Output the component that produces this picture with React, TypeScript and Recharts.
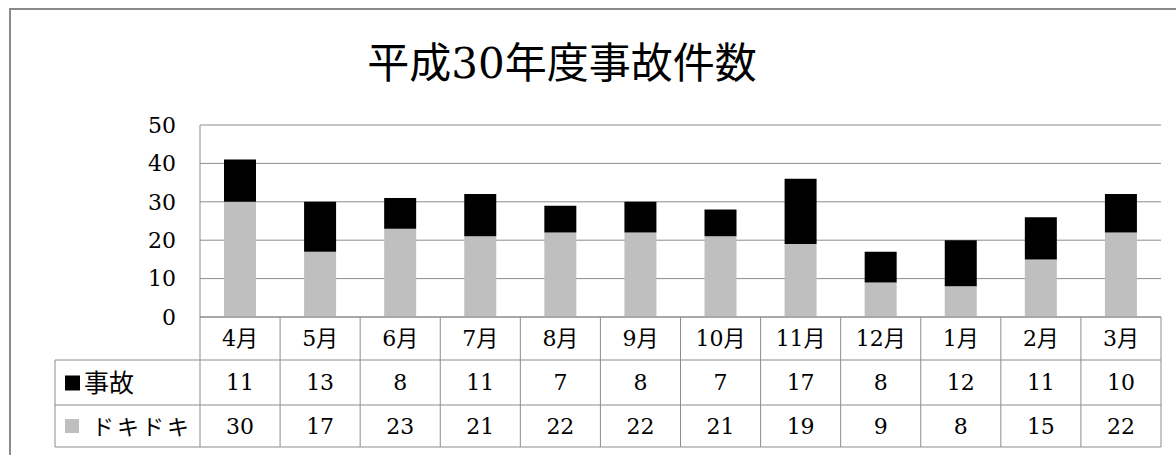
import { BarChart, Bar, XAxis, YAxis, CartesianGrid } from "recharts";

const months = ["4月", "5月", "6月", "7月", "8月", "9月", "10月", "11月", "12月", "1月", "2月", "3月"];
const accidents = [11, 13, 8, 11, 7, 8, 7, 17, 8, 12, 11, 10];
const dokidoki = [30, 17, 23, 21, 22, 22, 21, 19, 9, 8, 15, 22];
const yTicks = [0, 10, 20, 30, 40, 50];
const seriesNames = { jiko: "事故", doki: "ドキドキ" };
const title = "平成30年度事故件数";

const data = months.map((m, i) => ({ month: m, jiko: accidents[i], doki: dokidoki[i] }));

const W = 1176;
const H = 455;
const M = { top: 125, right: 15, bottom: 8, left: 140 };
const Y_W = 60;
const X_H = 130;
const COL_W = (W - M.left - Y_W - M.right) / months.length;
const ROWS = [43, 45, 42];
const LEGEND_W = 145;
const GRID = "#8c8c8c";
const SERIF = "'DejaVu Serif', 'Noto Sans CJK JP', serif";
const GRAY = "#bfbfbf";

function TableTick(props: any) {
  const { x, y, payload } = props;
  const i = payload.index;
  const left = x - COL_W / 2;
  const right = x + COL_W / 2;
  const r1 = y;
  const r2 = r1 + ROWS[0];
  const r3 = r2 + ROWS[1];
  const r4 = r3 + ROWS[2];
  const last = i === months.length - 1;
  const txt = { fontFamily: SERIF, fill: "#000", textAnchor: "middle" as const, dominantBaseline: "central" as const };

  return (
    <g>
      <line x1={left} x2={right} y1={r1} y2={r1} stroke={GRID} />
      <line x1={left} x2={right} y1={r2} y2={r2} stroke={GRID} />
      <line x1={left} x2={right} y1={r3} y2={r3} stroke={GRID} />
      <line x1={left} x2={right} y1={r4} y2={r4} stroke={GRID} />
      <line x1={left} x2={left} y1={r1} y2={r4} stroke={GRID} />
      {last && <line x1={right} x2={right} y1={r1} y2={r4} stroke={GRID} />}
      <text x={x} y={(r1 + r2) / 2} fontSize={22} {...txt}>{payload.value}</text>
      <text x={x} y={(r2 + r3) / 2} fontSize={22} {...txt}>{accidents[i]}</text>
      <text x={x} y={(r3 + r4) / 2} fontSize={22} {...txt}>{dokidoki[i]}</text>
      {i === 0 && (
        <g>
          <line x1={left - LEGEND_W} x2={left} y1={r2} y2={r2} stroke={GRID} />
          <line x1={left - LEGEND_W} x2={left} y1={r3} y2={r3} stroke={GRID} />
          <line x1={left - LEGEND_W} x2={left} y1={r4} y2={r4} stroke={GRID} />
          <line x1={left - LEGEND_W} x2={left - LEGEND_W} y1={r2} y2={r4} stroke={GRID} />
          <rect x={left - LEGEND_W + 10} y={(r2 + r3) / 2 - 7} width={15} height={15} fill="#000" />
          <text x={left - LEGEND_W + 29} y={(r2 + r3) / 2 + 1} fontSize={25} fontFamily={SERIF} dominantBaseline="central">
            {seriesNames.jiko}
          </text>
          <rect x={left - LEGEND_W + 10} y={(r3 + r4) / 2 - 7} width={14} height={14} fill={GRAY} />
          <text x={left - LEGEND_W + 37} y={(r3 + r4) / 2 + 1} fontSize={22} letterSpacing={3} fontFamily={SERIF} dominantBaseline="central">
            {seriesNames.doki}
          </text>
        </g>
      )}
    </g>
  );
}

export default function App() {
  return (
    <div style={{ position: "absolute", left: 0, top: 0, width: W, height: H, background: "#fff", overflow: "hidden" }}>
      <div
        style={{
          position: "absolute",
          left: 9,
          top: 8,
          right: -4,
          bottom: -4,
          borderLeft: "2px solid #8a8a8a",
          borderTop: "2px solid #8a8a8a",
        }}
      />
      <svg width={W} height={110} style={{ position: "absolute", left: 0, top: 0 }}>
        <text x={562} y={78} textAnchor="middle" fontSize={42} fontFamily={SERIF} fill="#000">
          {title}
        </text>
      </svg>
      <div style={{ position: "absolute", left: 0, top: 0 }}>
        <BarChart width={W} height={H} data={data} margin={M}>
          <CartesianGrid vertical={false} stroke={GRID} />
          <XAxis
            dataKey="month"
            height={X_H}
            axisLine={false}
            tickLine={false}
            tickSize={0}
            tickMargin={0}
            interval={0}
            tick={<TableTick />}
          />
          <YAxis
            width={Y_W}
            domain={[0, 50]}
            ticks={yTicks}
            axisLine={{ stroke: GRID }}
            tickLine={false}
            tickSize={0}
            tickMargin={24}
            tick={{ fill: "#000", fontSize: 22, fontFamily: SERIF }}
          />
          <Bar dataKey="doki" name={seriesNames.doki} stackId="a" fill={GRAY} barSize={32} isAnimationActive={false} />
          <Bar dataKey="jiko" name={seriesNames.jiko} stackId="a" fill="#000" barSize={32} isAnimationActive={false} />
        </BarChart>
      </div>
    </div>
  );
}
